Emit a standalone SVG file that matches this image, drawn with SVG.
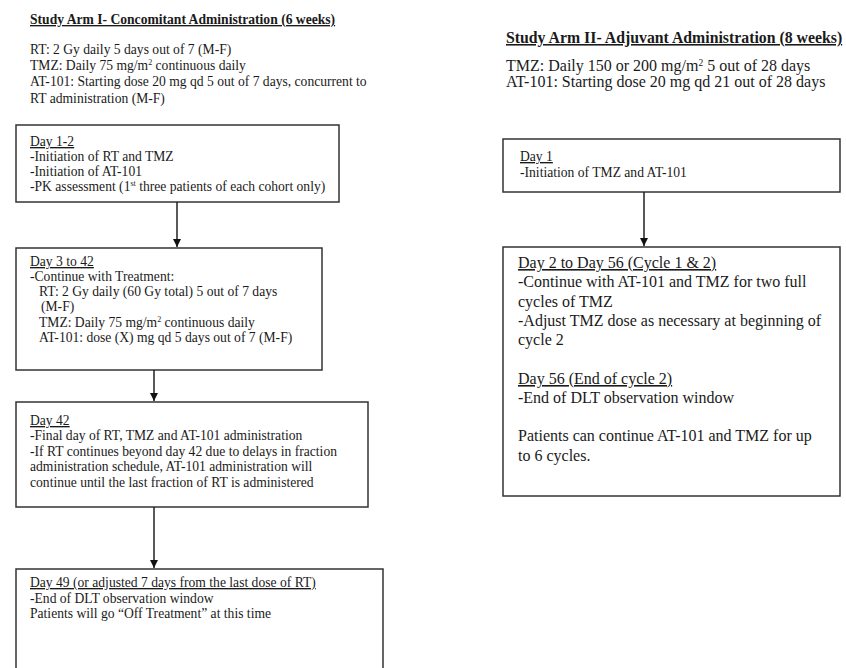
<svg xmlns="http://www.w3.org/2000/svg" width="846" height="668" viewBox="0 0 846 668">
<defs>
<style>
text{font-family:"Liberation Serif","Times New Roman",serif;fill:#1a1a1a;}
.s{font-size:13.6px;}
.m{font-size:16px;}
.hh{font-size:15.8px;}
.h{font-weight:bold;text-decoration:underline;}
.u{text-decoration:underline;}
.box{fill:#fff;stroke:#333;stroke-width:1.5;}
.conn{stroke:#222;stroke-width:1.5;fill:none;}
</style>
<marker id="ah" viewBox="0 0 10 10" refX="10" refY="5" markerWidth="8" markerHeight="8" markerUnits="userSpaceOnUse" orient="auto">
<path d="M0,0 L10,5 L0,10 z" fill="#111"/>
</marker>
</defs>
<rect width="846" height="668" fill="#fff"/>

<g id="header-arm1">
<text class="s h" x="30" y="24">Study Arm I- Concomitant Administration (6 weeks)</text>
<text class="s" x="30" y="54">RT: 2 Gy daily 5 days out of 7 (M-F)</text>
<text class="s" x="30" y="70">TMZ: Daily 75 mg/m<tspan font-size="8" dy="-5">2</tspan><tspan dy="5"> continuous daily</tspan></text>
<text class="s" x="30" y="86">AT-101: Starting dose 20 mg qd 5 out of 7 days, concurrent to</text>
<text class="s" x="30" y="103">RT administration (M-F)</text>
</g>

<g id="header-arm2">
<text class="hh h" x="506" y="43">Study Arm II- Adjuvant Administration (8 weeks)</text>
<text class="m" x="506" y="71">TMZ: Daily 150 or 200 mg/m<tspan font-size="9.5" dy="-5.5">2</tspan><tspan dy="5.5"> 5 out of 28 days</tspan></text>
<text class="m" x="506" y="87">AT-101: Starting dose 20 mg qd 21 out of 28 days</text>
</g>

<g id="arm1-day1-2">
<rect class="box" x="16" y="125" width="323" height="77"/>
<text class="s u" x="30" y="146">Day 1-2</text>
<text class="s" x="30" y="161">-Initiation of RT and TMZ</text>
<text class="s" x="30" y="176">-Initiation of AT-101</text>
<text class="s" x="30" y="191">-PK assessment (1<tspan font-size="8" dy="-5">st</tspan><tspan dy="5"> three patients of each cohort only)</tspan></text>
</g>

<g id="arm1-day3-42">
<rect class="box" x="16" y="248" width="306" height="122"/>
<text class="s u" x="30" y="266">Day 3 to 42</text>
<text class="s" x="30" y="281">-Continue with Treatment:</text>
<text class="s" x="39" y="296">RT: 2 Gy daily (60 Gy total) 5 out of 7 days</text>
<text class="s" x="41" y="311">(M-F)</text>
<text class="s" x="39" y="327">TMZ: Daily 75 mg/m<tspan font-size="8" dy="-5">2</tspan><tspan dy="5"> continuous daily</tspan></text>
<text class="s" x="39" y="342">AT-101: dose (X) mg qd 5 days out of 7 (M-F)</text>
</g>

<g id="arm1-day42">
<rect class="box" x="16" y="402" width="352" height="105"/>
<text class="s u" x="30" y="425">Day 42</text>
<text class="s" x="30" y="440">-Final day of RT, TMZ and AT-101 administration</text>
<text class="s" x="30" y="456">-If RT continues beyond day 42 due to delays in fraction</text>
<text class="s" x="30" y="471">administration schedule, AT-101 administration will</text>
<text class="s" x="30" y="487">continue until the last fraction of RT is administered</text>
</g>

<g id="arm1-day49">
<rect class="box" x="16" y="569" width="367" height="110"/>
<text class="s u" x="30" y="587">Day 49 (or adjusted 7 days from the last dose of RT)</text>
<text class="s" x="30" y="603">-End of DLT observation window</text>
<text class="s" x="30" y="618">Patients will go “Off Treatment” at this time</text>
</g>

<g id="arm2-day1">
<rect class="box" x="503" y="139" width="337" height="53"/>
<text class="s u" x="520" y="161">Day 1</text>
<text class="s" x="520" y="177">-Initiation of TMZ and AT-101</text>
</g>

<g id="arm2-day2-56">
<rect class="box" x="503" y="247" width="337" height="249"/>
<text class="m u" x="518" y="268">Day 2 to Day 56 (Cycle 1 &amp; 2)</text>
<text class="m" x="518" y="287">-Continue with AT-101 and TMZ for two full</text>
<text class="m" x="518" y="307">cycles of TMZ</text>
<text class="m" x="518" y="326">-Adjust TMZ dose as necessary at beginning of</text>
<text class="m" x="518" y="345">cycle 2</text>
<text class="m u" x="518" y="384">Day 56 (End of cycle 2)</text>
<text class="m" x="518" y="403">-End of DLT observation window</text>
<text class="m" x="518" y="441">Patients can continue AT-101 and TMZ for up</text>
<text class="m" x="518" y="461">to 6 cycles.</text>
</g>

<g id="connectors">
<line class="conn" x1="177" y1="202" x2="177" y2="247" marker-end="url(#ah)"/>
<line class="conn" x1="154" y1="370" x2="154" y2="401" marker-end="url(#ah)"/>
<line class="conn" x1="154" y1="507" x2="154" y2="568" marker-end="url(#ah)"/>
<line class="conn" x1="644" y1="192" x2="644" y2="246" marker-end="url(#ah)"/>
</g>
</svg>
